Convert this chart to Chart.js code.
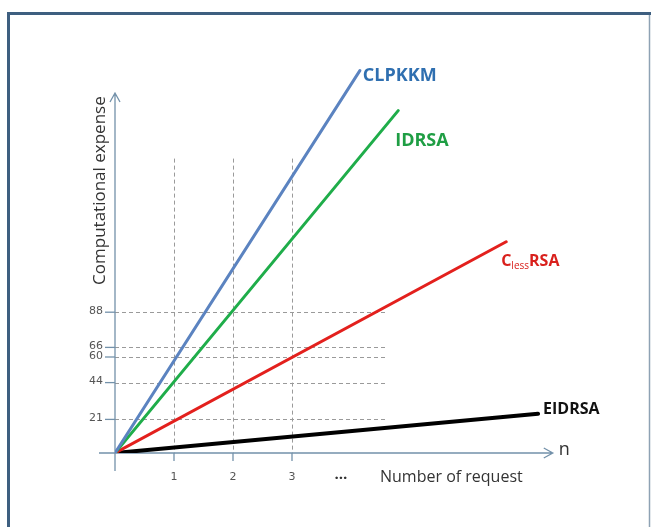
<!DOCTYPE html>
<html>
<head>
<meta charset="utf-8">
<script src="https://cdn.jsdelivr.net/npm/chart.js@4"></script>
<style>
  html, body { margin: 0; padding: 0; background: #fff; }
  #wrap { width: 651px; height: 527px; }
</style>
</head>
<body>
<div id="wrap"><canvas id="myChart" width="651" height="527"></canvas></div>
<script>
// values
var xTicks = [1, 2, 3];
var yTicks = [21, 44, 60, 66, 88];
var seriesNames = ['CLPKKM', 'IDRSA', 'ClessRSA', 'EIDRSA'];
var clpkkmX = [0, 4.15];
var clpkkmY = [0, 239];
var idrsaX = [0, 4.8];
var idrsaY = [0, 214];
var clessX = [0, 6.63];
var clessY = [0, 132];
var eidrsaX = [0, 7.17];
var eidrsaY = [0, 24.5];

function pts(xs, ys) {
    return xs.map(function (x, i) { return { x: x, y: ys[i] }; });
}

var axisColor = '#7391aa';
var gridColor = '#9a9a9a';

var framePlugin = {
    id: 'frame',
    beforeDraw: function (chart) {
        var c = chart.ctx;
        c.save();
        c.fillStyle = '#fff';
        c.fillRect(0, 0, chart.width, chart.height);
        c.strokeStyle = '#3e5f80';
        c.lineWidth = 3;
        c.beginPath();
        c.moveTo(8.5, 527);
        c.lineTo(8.5, 13.5);
        c.lineTo(651, 13.5);
        c.stroke();
        c.strokeStyle = '#8ea2b4';
        c.lineWidth = 1.5;
        c.beginPath();
        c.moveTo(649.5, 15);
        c.lineTo(649.5, 527);
        c.stroke();
        c.restore();
    }
};

var axesPlugin = {
    id: 'axes',
    beforeDatasetsDraw: function (chart) {
        var c = chart.ctx, xs = chart.scales.x, ys = chart.scales.y;
        var x0 = xs.getPixelForValue(0), y0 = ys.getPixelForValue(0);
        c.save();
        // dashed guide lines
        c.strokeStyle = gridColor;
        c.lineWidth = 1;
        c.setLineDash([4, 3]);
        var gridTop = ys.getPixelForValue(184);
        var gridRight = xs.getPixelForValue(4.58);
        xTicks.forEach(function (t) {
            var px = Math.round(xs.getPixelForValue(t)) + 0.5;
            c.beginPath(); c.moveTo(px, gridTop); c.lineTo(px, y0); c.stroke();
        });
        yTicks.forEach(function (t) {
            var py = Math.round(ys.getPixelForValue(t)) + 0.5;
            c.beginPath(); c.moveTo(x0, py); c.lineTo(gridRight, py); c.stroke();
        });
        c.setLineDash([]);

        // axes with arrows
        c.strokeStyle = axisColor;
        c.lineWidth = 1.3;
        var yTop = ys.getPixelForValue(225);
        var xEnd = xs.getPixelForValue(7.42);
        c.beginPath();
        c.moveTo(x0, y0 + 18); c.lineTo(x0, yTop);
        c.moveTo(x0 - 5, yTop + 9); c.lineTo(x0, yTop); c.lineTo(x0 + 5, yTop + 9);
        c.moveTo(x0 - 16, y0); c.lineTo(xEnd, y0);
        c.moveTo(xEnd - 9, y0 - 5); c.lineTo(xEnd, y0); c.lineTo(xEnd - 9, y0 + 5);
        c.stroke();

        // tick marks and tick labels
        c.font = '11px "DejaVu Sans"';
        c.fillStyle = '#555';
        c.textBaseline = 'middle';
        xTicks.forEach(function (t) {
            var px = xs.getPixelForValue(t);
            c.beginPath(); c.moveTo(px, y0); c.lineTo(px, y0 + 8); c.stroke();
            c.textAlign = 'center';
            c.fillText(String(t), px, y0 + 24);
        });
        yTicks.forEach(function (t) {
            var py = ys.getPixelForValue(t);
            c.beginPath(); c.moveTo(x0 - 10, py); c.lineTo(x0, py); c.stroke();
            c.textAlign = 'right';
            c.fillText(String(t), x0 - 12, py - 1);
        });

        // axis titles
        c.fillStyle = '#333';
        c.font = 'bold 15px "Open Sans"';
        c.textAlign = 'left';
        c.fillText('\u2026', xs.getPixelForValue(3.72), y0 + 22);
        c.font = '16px "Open Sans"';
        c.fillText('Number of request', 380, y0 + 24);
        c.font = '18px "Open Sans"';
        c.fillText('n', xEnd + 6, y0 - 3);
        c.save();
        c.translate(x0 - 15, ys.getPixelForValue(164));
        c.rotate(-Math.PI / 2);
        c.font = '17px "Open Sans"';
        c.textAlign = 'center';
        c.fillText('Computational expense', 0, 0);
        c.restore();
        c.restore();
    },
    afterDatasetsDraw: function (chart) {
        var c = chart.ctx;
        c.save();
        c.textBaseline = 'middle';
        c.textAlign = 'left';
        chart.data.datasets.forEach(function (ds, i) {
            var meta = chart.getDatasetMeta(i);
            var last = meta.data[meta.data.length - 1];
            c.fillStyle = ds.labelColor;
            if (i === 0) {
                c.font = 'bold 18px "Open Sans"';
                c.fillText('CLPKKM', last.x + 3, last.y + 5);
            } else if (i === 1) {
                c.font = 'bold 18px "Open Sans"';
                c.fillText('IDRSA', last.x - 3, last.y + 30);
            } else if (i === 2) {
                c.font = 'bold 16px "Open Sans"';
                var lx = last.x - 5, ly = last.y + 20;
                c.fillText('C', lx, ly);
                var w = c.measureText('C').width;
                c.font = '10px "Open Sans"';
                c.fillText('less', lx + w, ly + 4);
                var w2 = c.measureText('less').width;
                c.font = 'bold 16px "Open Sans"';
                c.fillText('RSA', lx + w + w2, ly);
            } else {
                c.font = 'bold 16px "Open Sans"';
                c.fillText('EIDRSA', last.x + 5, last.y - 4);
            }
        });
        c.restore();
    }
};

document.addEventListener('DOMContentLoaded', function () {
    var ctx = document.getElementById('myChart').getContext('2d');
    var myChart = new Chart(ctx, {
        type: 'line',
        data: {
            datasets: [{
                label: seriesNames[0],
                data: pts(clpkkmX, clpkkmY),
                borderColor: '#5b83c0',
                labelColor: '#2f6fb0',
                borderWidth: 3
            }, {
                label: seriesNames[1],
                data: pts(idrsaX, idrsaY),
                borderColor: '#1fad4a',
                labelColor: '#1f9e44',
                borderWidth: 3
            }, {
                label: seriesNames[2],
                data: pts(clessX, clessY),
                borderColor: '#e3201d',
                labelColor: '#d9201c',
                borderWidth: 3
            }, {
                label: seriesNames[3],
                data: pts(eidrsaX, eidrsaY),
                borderColor: '#000000',
                labelColor: '#111111',
                borderWidth: 4
            }]
        },
        options: {
            responsive: false,
            animation: false,
            events: [],
            layout: {
                padding: { left: 115, right: 64, top: 53, bottom: 74 }
            },
            elements: {
                point: { radius: 0 },
                line: { tension: 0, borderCapStyle: 'round' }
            },
            plugins: {
                legend: { display: false },
                tooltip: { enabled: false }
            },
            scales: {
                x: { type: 'linear', min: 0, max: 8, display: false },
                y: { type: 'linear', min: 0, max: 250, display: false }
            }
        },
        plugins: [framePlugin, axesPlugin]
    });
});
</script>
</body>
</html>
